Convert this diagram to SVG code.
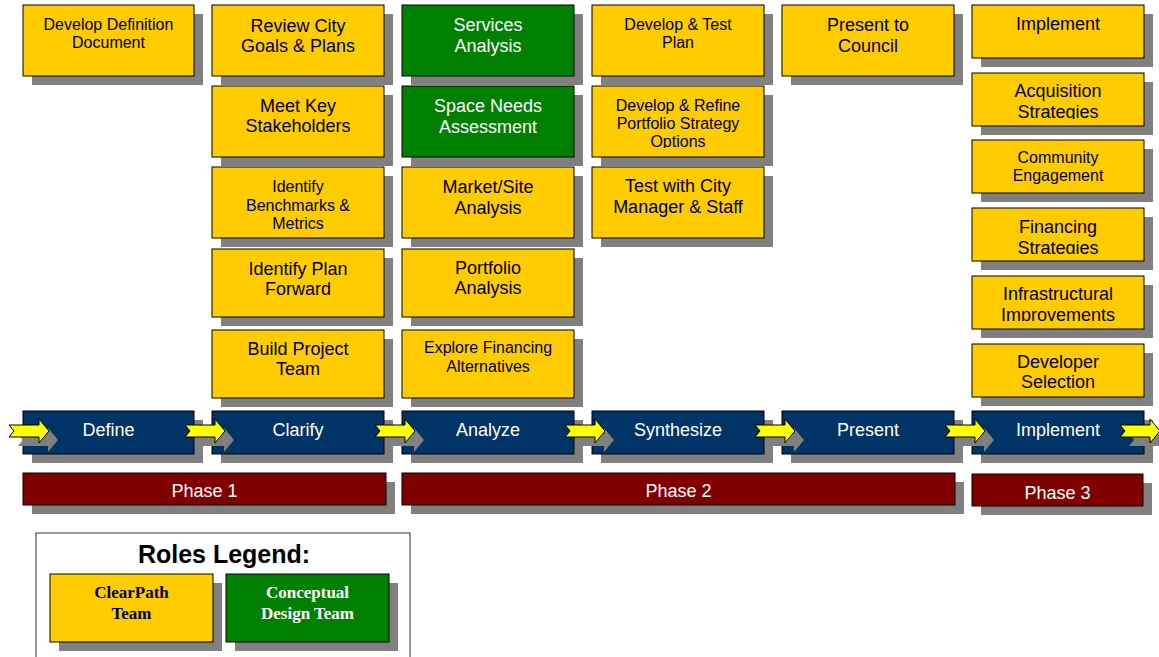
<svg xmlns="http://www.w3.org/2000/svg" width="1159" height="657" viewBox="0 0 1159 657">
<style>
.box{stroke:#000;stroke-width:1}
.y{fill:#FFCC00}
.g{fill:#008000}
.n{fill:#003366}
.m{fill:#800000}
.sh{fill:#808080}
.t{font-family:"Liberation Sans",Arial,sans-serif;text-anchor:middle}
.big{font-size:18px}
.sm{font-size:16px}
.dk{fill:#000}
.wt{fill:#fff}
.arr{fill:#FFFF00;stroke:#000;stroke-width:1}
.leg{font-family:"Liberation Serif","Times New Roman",serif;font-weight:bold;font-size:17px;text-anchor:middle}
</style>
<defs>
<path id="arrow" d="M0,425 L30,425 L30,419 L40,431 L30,443 L30,437 L0,437 L5,431 Z"/>
<clipPath id="c1"><rect x="592" y="86" width="172" height="62"/></clipPath>
<clipPath id="c2"><rect x="972" y="73" width="172" height="46"/></clipPath>
<clipPath id="c3"><rect x="972" y="208" width="172" height="46"/></clipPath>
<clipPath id="c4"><rect x="972" y="276" width="172" height="45"/></clipPath>
</defs>
<rect width="1159" height="657" fill="#fff"/>

<!-- Column 1 -->
<g id="develop-definition"><rect class="sh" x="32" y="14" width="171" height="71"/><rect class="box y" x="23" y="5" width="171" height="71"/><text class="t sm dk" x="108.5" y="30">Develop Definition</text><text class="t sm dk" x="108.5" y="48">Document</text></g>

<!-- Column 2 -->
<g id="review-city-goals"><rect class="sh" x="221" y="14" width="172" height="71"/><rect class="box y" x="212" y="5" width="172" height="71"/><text class="t big dk" x="298" y="32">Review City</text><text class="t big dk" x="298" y="52">Goals &amp; Plans</text></g>
<g id="meet-key-stakeholders"><rect class="sh" x="221" y="95" width="172" height="71"/><rect class="box y" x="212" y="86" width="172" height="71"/><text class="t big dk" x="298" y="112">Meet Key</text><text class="t big dk" x="298" y="132">Stakeholders</text></g>
<g id="identify-benchmarks"><rect class="sh" x="221" y="176" width="172" height="71"/><rect class="box y" x="212" y="167" width="172" height="71"/><text class="t sm dk" x="298" y="192">Identify</text><text class="t sm dk" x="298" y="211">Benchmarks &amp;</text><text class="t sm dk" x="298" y="229">Metrics</text></g>
<g id="identify-plan-forward"><rect class="sh" x="221" y="258" width="172" height="68"/><rect class="box y" x="212" y="249" width="172" height="68"/><text class="t big dk" x="298" y="275">Identify Plan</text><text class="t big dk" x="298" y="295">Forward</text></g>
<g id="build-project-team"><rect class="sh" x="221" y="339" width="172" height="68"/><rect class="box y" x="212" y="330" width="172" height="68"/><text class="t big dk" x="298" y="355">Build Project</text><text class="t big dk" x="298" y="375">Team</text></g>

<!-- Column 3 -->
<g id="services-analysis"><rect class="sh" x="411" y="14" width="172" height="71"/><rect class="box g" x="402" y="5" width="172" height="71"/><text class="t big wt" x="488" y="31">Services</text><text class="t big wt" x="488" y="52">Analysis</text></g>
<g id="space-needs"><rect class="sh" x="411" y="95" width="172" height="71"/><rect class="box g" x="402" y="86" width="172" height="71"/><text class="t big wt" x="488" y="112">Space Needs</text><text class="t big wt" x="488" y="133">Assessment</text></g>
<g id="market-site"><rect class="sh" x="411" y="176" width="172" height="71"/><rect class="box y" x="402" y="167" width="172" height="71"/><text class="t big dk" x="488" y="193">Market/Site</text><text class="t big dk" x="488" y="214">Analysis</text></g>
<g id="portfolio-analysis"><rect class="sh" x="411" y="258" width="172" height="68"/><rect class="box y" x="402" y="249" width="172" height="68"/><text class="t big dk" x="488" y="274">Portfolio</text><text class="t big dk" x="488" y="294">Analysis</text></g>
<g id="explore-financing"><rect class="sh" x="411" y="339" width="172" height="68"/><rect class="box y" x="402" y="330" width="172" height="68"/><text class="t sm dk" x="488" y="353">Explore Financing</text><text class="t sm dk" x="488" y="372">Alternatives</text></g>

<!-- Column 4 -->
<g id="develop-test-plan"><rect class="sh" x="601" y="14" width="172" height="71"/><rect class="box y" x="592" y="5" width="172" height="71"/><text class="t sm dk" x="678" y="30">Develop &amp; Test</text><text class="t sm dk" x="678" y="48">Plan</text></g>
<g id="develop-refine"><rect class="sh" x="601" y="95" width="172" height="71"/><rect class="box y" x="592" y="86" width="172" height="71"/><g clip-path="url(#c1)"><text class="t sm dk" x="678" y="111">Develop &amp; Refine</text><text class="t sm dk" x="678" y="129">Portfolio Strategy</text><text class="t sm dk" x="678" y="147">Options</text></g></g>
<g id="test-city-manager"><rect class="sh" x="601" y="176" width="172" height="71"/><rect class="box y" x="592" y="167" width="172" height="71"/><text class="t big dk" x="678" y="192">Test with City</text><text class="t big dk" x="678" y="213">Manager &amp; Staff</text></g>

<!-- Column 5 -->
<g id="present-to-council"><rect class="sh" x="791" y="14" width="172" height="71"/><rect class="box y" x="782" y="5" width="172" height="71"/><text class="t big dk" x="868" y="31">Present to</text><text class="t big dk" x="868" y="52">Council</text></g>

<!-- Column 6 -->
<g id="implement-top"><rect class="sh" x="981" y="14" width="172" height="53"/><rect class="box y" x="972" y="5" width="172" height="53"/><text class="t big dk" x="1058" y="30">Implement</text></g>
<g id="acquisition"><rect class="sh" x="981" y="82" width="172" height="53"/><rect class="box y" x="972" y="73" width="172" height="53"/><g clip-path="url(#c2)"><text class="t big dk" x="1058" y="97">Acquisition</text><text class="t big dk" x="1058" y="118">Strategies</text></g></g>
<g id="community"><rect class="sh" x="981" y="149" width="172" height="53"/><rect class="box y" x="972" y="140" width="172" height="53"/><text class="t sm dk" x="1058" y="163">Community</text><text class="t sm dk" x="1058" y="181">Engagement</text></g>
<g id="financing"><rect class="sh" x="981" y="217" width="172" height="53"/><rect class="box y" x="972" y="208" width="172" height="53"/><g clip-path="url(#c3)"><text class="t big dk" x="1058" y="233">Financing</text><text class="t big dk" x="1058" y="254">Strategies</text></g></g>
<g id="infrastructural"><rect class="sh" x="981" y="285" width="172" height="53"/><rect class="box y" x="972" y="276" width="172" height="53"/><g clip-path="url(#c4)"><text class="t big dk" x="1058" y="300">Infrastructural</text><text class="t big dk" x="1058" y="321">Improvements</text></g></g>
<g id="developer-selection"><rect class="sh" x="981" y="353" width="172" height="53"/><rect class="box y" x="972" y="344" width="172" height="53"/><text class="t big dk" x="1058" y="368">Developer</text><text class="t big dk" x="1058" y="388">Selection</text></g>

<!-- Process bars -->
<g id="bar-shadows">
<rect class="sh" x="32" y="420" width="171" height="43"/>
<rect class="sh" x="221" y="420" width="172" height="43"/>
<rect class="sh" x="411" y="420" width="172" height="43"/>
<rect class="sh" x="601" y="420" width="172" height="43"/>
<rect class="sh" x="791" y="420" width="172" height="43"/>
<rect class="sh" x="981" y="420" width="172" height="43"/>
</g>
<g id="define"><rect class="box n" x="23" y="411" width="171" height="43"/><text class="t big wt" x="108.5" y="436">Define</text></g>
<g id="clarify"><rect class="box n" x="212" y="411" width="172" height="43"/><text class="t big wt" x="298" y="436">Clarify</text></g>
<g id="analyze"><rect class="box n" x="402" y="411" width="172" height="43"/><text class="t big wt" x="488" y="436">Analyze</text></g>
<g id="synthesize"><rect class="box n" x="592" y="411" width="172" height="43"/><text class="t big wt" x="678" y="436">Synthesize</text></g>
<g id="present"><rect class="box n" x="782" y="411" width="172" height="43"/><text class="t big wt" x="868" y="436">Present</text></g>
<g id="implement"><rect class="box n" x="972" y="411" width="172" height="43"/><text class="t big wt" x="1058" y="436">Implement</text></g>

<!-- Connectors (block arrows) -->
<g id="connectors">
<use href="#arrow" class="sh" x="18" y="9"/>
<use href="#arrow" class="sh" x="194" y="9"/>
<use href="#arrow" class="sh" x="384" y="9"/>
<use href="#arrow" class="sh" x="574" y="9"/>
<use href="#arrow" class="sh" x="764" y="9"/>
<use href="#arrow" class="sh" x="954" y="9"/>
<use href="#arrow" class="sh" x="1129" y="9"/>
<use href="#arrow" class="arr" x="9"/>
<use href="#arrow" class="arr" x="185"/>
<use href="#arrow" class="arr" x="375"/>
<use href="#arrow" class="arr" x="565"/>
<use href="#arrow" class="arr" x="755"/>
<use href="#arrow" class="arr" x="945"/>
<use href="#arrow" class="arr" x="1120"/>
</g>

<!-- Phases -->
<g id="phase-1"><rect class="sh" x="32" y="482" width="363" height="32"/><rect class="box m" x="23" y="473" width="363" height="32"/><text class="t big wt" x="204.5" y="497">Phase 1</text></g>
<g id="phase-2"><rect class="sh" x="411" y="482" width="553" height="32"/><rect class="box m" x="402" y="473" width="553" height="32"/><text class="t big wt" x="678.5" y="497">Phase 2</text></g>
<g id="phase-3"><rect class="sh" x="981" y="483" width="171" height="32"/><rect class="box m" x="972" y="474" width="171" height="32"/><text class="t big wt" x="1057.5" y="499">Phase 3</text></g>

<!-- Legend -->
<g id="legend">
<rect x="36" y="533" width="374" height="140" fill="#fff" stroke="#333" stroke-width="1"/>
<text x="224" y="563" font-family="'Liberation Sans',Arial,sans-serif" font-weight="bold" font-size="25" text-anchor="middle" fill="#000">Roles Legend:</text>
<g id="legend-clearpath"><rect class="sh" x="59" y="583" width="163" height="68"/><rect class="box y" x="50" y="574" width="163" height="68"/><text class="leg" x="131.5" y="598" fill="#000">ClearPath</text><text class="leg" x="131.5" y="619" fill="#000">Team</text></g>
<g id="legend-conceptual"><rect class="sh" x="235" y="583" width="163" height="68"/><rect class="box g" x="226" y="574" width="163" height="68"/><text class="leg" x="307.5" y="598" fill="#fff">Conceptual</text><text class="leg" x="307.5" y="619" fill="#fff">Design Team</text></g>
</g>
</svg>
